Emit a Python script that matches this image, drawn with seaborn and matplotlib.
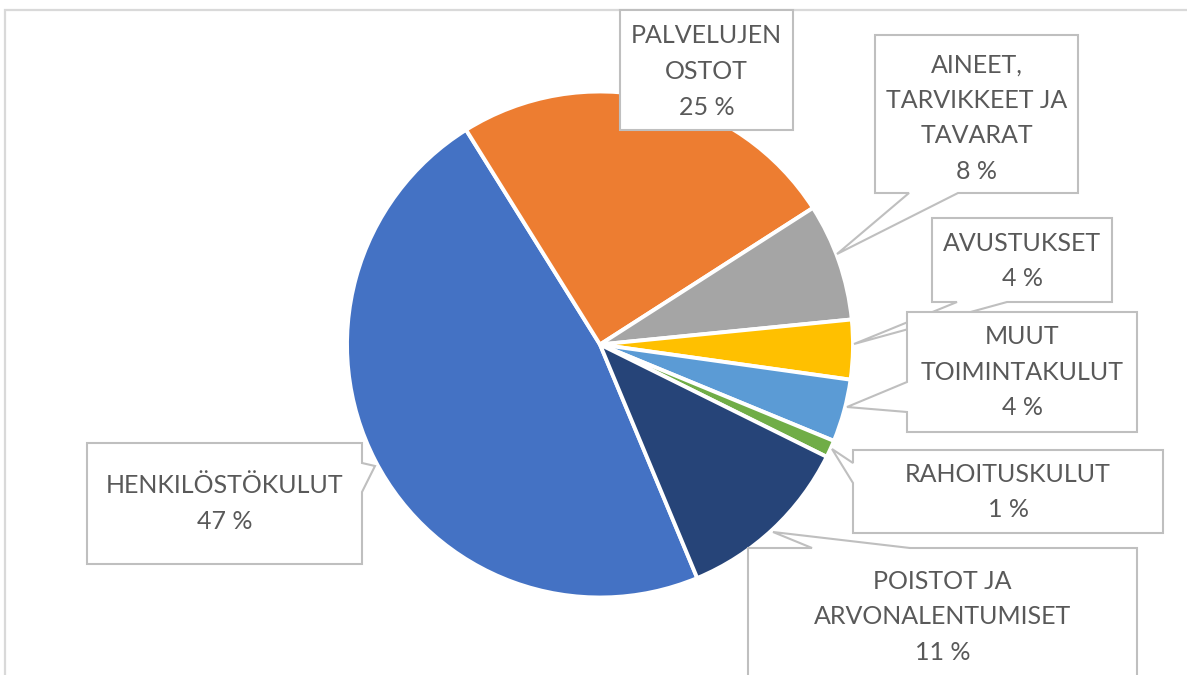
import matplotlib
matplotlib.use("Agg")
import matplotlib.pyplot as plt
from matplotlib.patches import Polygon, Rectangle
import seaborn as sns

# ---------------- data ----------------
categories = ["HENKILÖSTÖKULUT", "PALVELUJEN\nOSTOT", "AINEET,\nTARVIKKEET JA\nTAVARAT",
              "AVUSTUKSET", "MUUT\nTOIMINTAKULUT", "RAHOITUSKULUT", "POISTOT JA\nARVONALENTUMISET"]
values = [47.4, 24.8, 7.5, 3.8, 4.0, 1.1, 11.4]
colors = ["#4472C4", "#ED7D31", "#A5A5A5", "#FFC000", "#5B9BD5", "#70AD47", "#264478"]

# ---------------- layout (pixel coords, y down) ----------------
W, H = 1187, 675
CX, CY, R = 600, 344.5, 253
START = -67.4  # degrees, start of first wedge (drawn clockwise)

# box: (x0, y0, x1, y1); pointer: (side, a, b, tip_x, tip_y) or None
boxes = [
    (87, 443, 362, 564),
    (620, 10, 793, 130),
    (875, 35, 1078, 193),
    (932, 218, 1112, 302),
    (907, 312, 1137, 432),
    (853, 450, 1163, 533),
    (748, 548, 1137, 700),
]
pointers = [
    ("right", 463, 492, 375, 466),
    None,
    ("bottom", 909, 958, 837, 254),
    ("bottom", 957, 1007, 854, 344),
    ("left", 382, 412, 847, 407),
    ("left", 463, 483, 832, 449),
    ("top", 812, 910, 773, 532),
]
text_y = [503.5, 71.5, 118, 261, 372, 492, 617]

sns.set_theme(style="white")
plt.rcParams["font.family"] = ["Lato", "DejaVu Sans"]

fig = plt.figure(figsize=(W / 100, H / 100), dpi=100)
ax = fig.add_axes([0, 0, 1, 1])


def Y(py):
    return H - py


ax.pie(values, colors=colors, startangle=START, counterclock=False,
       center=(CX, Y(CY)), radius=R, frame=True,
       wedgeprops=dict(edgecolor="white", linewidth=2.8))

# chart area frame
ax.add_patch(Rectangle((5, Y(2000)), 3000, 2000 - 10, fill=False,
                       edgecolor="#d9d9d9", linewidth=1.6, zorder=0.5))


def callout(box, ptr):
    x0, y0, x1, y1 = box
    pts = [(x0, y0)]
    if ptr and ptr[0] == "top":
        _, a, b, tx, ty = ptr
        pts += [(a, y0), (tx, ty), (b, y0)]
    pts.append((x1, y0))
    if ptr and ptr[0] == "right":
        _, a, b, tx, ty = ptr
        pts += [(x1, a), (tx, ty), (x1, b)]
    pts.append((x1, y1))
    if ptr and ptr[0] == "bottom":
        _, a, b, tx, ty = ptr
        pts += [(b, y1), (tx, ty), (a, y1)]
    pts.append((x0, y1))
    if ptr and ptr[0] == "left":
        _, a, b, tx, ty = ptr
        pts += [(x0, b), (tx, ty), (x0, a)]
    return [(px, Y(py)) for px, py in pts]


for i, (cat, v) in enumerate(zip(categories, values)):
    poly = Polygon(callout(boxes[i], pointers[i]), closed=True, facecolor="white",
                   edgecolor="#bfbfbf", linewidth=1.5, zorder=3 + i * 0.1)
    ax.add_patch(poly)
    x0, y0, x1, y1 = boxes[i]
    ax.text((x0 + x1) / 2, Y(text_y[i]), f"{cat}\n{round(v):d} %", ha="center", va="center",
            fontsize=18, color="#595959", linespacing=1.66, zorder=3.05 + i * 0.1)

ax.set_xlim(0, W)
ax.set_ylim(0, H)
ax.set_aspect("equal")
ax.axis("off")

fig.savefig("out.png", dpi=100)
